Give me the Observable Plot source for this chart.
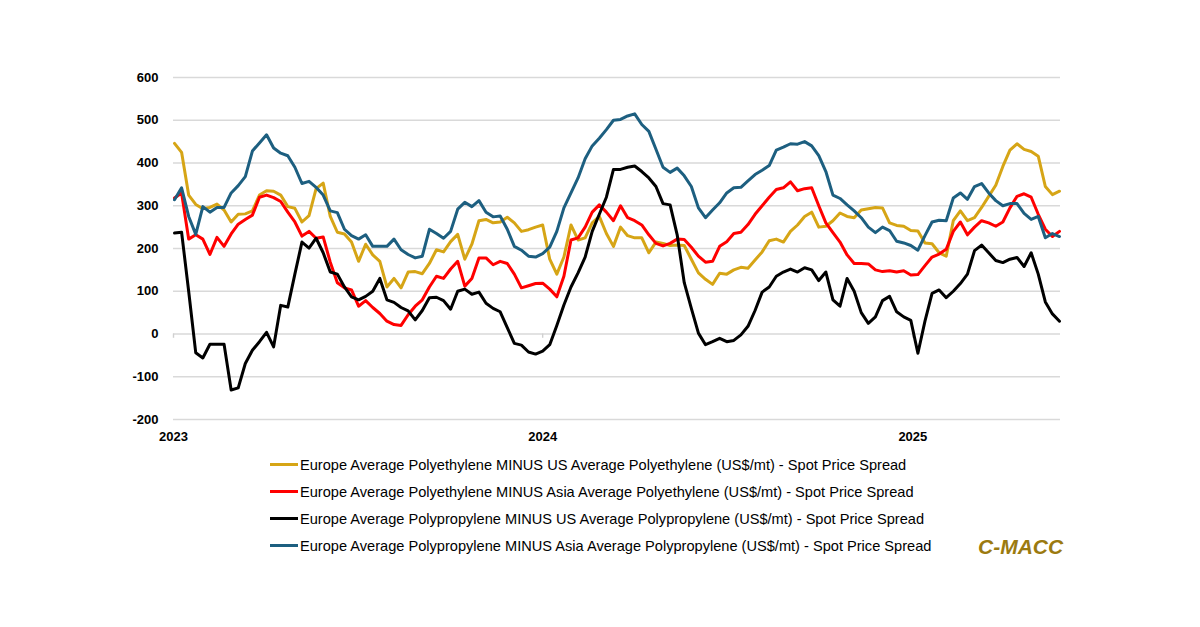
<!DOCTYPE html>
<html><head><meta charset="utf-8">
<script src="https://cdn.jsdelivr.net/npm/d3@7"></script>
<script src="https://cdn.jsdelivr.net/npm/@observablehq/plot@0.6"></script>
<style>
html,body{margin:0;padding:0;background:#fff}
body{width:1200px;height:627px;overflow:hidden;position:relative;font-family:"Liberation Sans",Arial,sans-serif}
#chart{position:absolute;left:0;top:0}
#legend{position:absolute;left:270px;top:451px}
.row{display:flex;align-items:center;height:27px;font-size:14.6px;color:#000;white-space:nowrap}
.sw{width:28px;height:3px;margin-right:2px}
#brand{position:absolute;left:978px;top:535px;font:italic bold 21px "Liberation Sans",Arial,sans-serif;color:#9b7a10}
</style></head><body>
<div id="chart"></div><div id="legend"></div><div id="brand">C-MACC</div>
<script>
const seriesNames = [
  "Europe Average Polyethylene MINUS US Average Polyethylene (US$/mt) - Spot Price Spread",
  "Europe Average Polyethylene MINUS Asia Average Polyethylene (US$/mt) - Spot Price Spread",
  "Europe Average Polypropylene MINUS US Average Polypropylene (US$/mt) - Spot Price Spread",
  "Europe Average Polypropylene MINUS Asia Average Polypropylene (US$/mt) - Spot Price Spread"
];
const seriesColors = ["#d6a516", "#ff0000", "#000000", "#1d5f80"];
const startWeek = "2023-01-02"; // weekly observations
const yTicks = [-200,-100,0,100,200,300,400,500,600];
const yearLabels = ["2023","2024","2025"];

const pe_us = [446,425,325,303,293,296,304,290,262,280,281,288,325,335,334,325,298,294,262,277,340,353,275,
 238,234,215,170,210,185,170,110,130,108,145,146,141,165,197,192,216,233,175,210,265,
 268,260,262,273,260,240,244,250,255,175,140,180,255,220,225,260,275,235,205,250,230,
 225,225,190,215,212,207,208,207,175,143,128,116,142,140,150,156,154,173,192,218,222,
 215,240,255,275,285,250,252,265,283,275,272,290,293,296,295,260,254,252,242,241,213,
 211,190,182,265,288,265,272,296,322,348,392,430,445,432,427,416,345,326,334];
const pe_asia = [318,330,222,232,222,186,226,205,234,257,268,278,320,325,319,310,285,262,229,240,224,227,168,
 120,108,103,65,78,62,48,30,22,20,45,65,80,110,135,130,152,170,112,130,178,
 178,162,170,165,140,108,113,118,119,105,87,135,220,225,250,285,302,285,265,300,272,
 265,255,232,212,206,212,222,221,203,182,168,170,205,216,235,238,256,280,300,320,338,
 342,356,335,340,342,300,260,237,215,185,165,165,164,150,146,148,145,148,138,139,160,
 180,187,198,240,262,232,250,265,260,252,262,295,322,328,320,280,245,228,240];
const pp_us = [236,238,100,-44,-56,-24,-24,-24,-131,-126,-69,-38,-18,4,-30,67,63,140,215,201,224,190,145,
 140,110,87,80,88,100,130,80,74,62,54,33,55,85,86,78,58,100,105,93,98,
 72,60,52,15,-22,-26,-42,-47,-40,-25,20,68,110,143,180,240,280,320,385,385,390,
 393,380,365,345,305,302,232,120,60,2,-25,-18,-10,-18,-15,-2,18,55,98,110,135,
 145,152,145,155,150,125,145,80,65,130,100,50,25,40,78,88,52,40,32,-45,30,
 95,103,85,100,118,140,195,208,190,172,167,175,179,158,190,140,75,47,30];
const pp_asia = [314,342,275,233,298,285,296,296,330,347,368,428,447,466,435,423,417,390,352,357,343,325,288,
 284,245,230,222,232,205,205,205,222,197,186,178,182,245,235,224,240,292,308,298,312,
 285,274,276,245,205,196,182,180,188,203,240,295,330,365,410,440,458,478,500,502,510,
 515,490,474,432,390,378,388,370,345,295,272,290,307,330,342,343,358,373,383,394,430,
 437,445,444,450,440,417,380,325,317,302,288,272,250,237,250,242,217,213,207,196,230,
 262,266,265,318,330,315,345,352,330,312,300,305,305,282,268,275,225,235,228];

const allSeries = [pe_us, pe_asia, pp_us, pp_asia];
const t0 = new Date(startWeek + "T00:00:00Z");
const data = [];
allSeries.forEach((arr, s) => arr.forEach((v, i) => data.push({series: seriesNames[s], date: d3.utcDay.offset(t0, 7*i), value: v})));
const yearTicks = yearLabels.map(y => new Date(y + "-01-01T00:00:00Z"));
const lastDate = d3.utcDay.offset(t0, 7*(pe_us.length-1));

const chart = Plot.plot({
  width: 1200, height: 450,
  marginTop: 77, marginBottom: 31, marginLeft: 173, marginRight: 140,
  style: {fontFamily: "'Liberation Sans', Arial, sans-serif", fontSize: "13px", fontWeight: "bold", color: "#000", background: "transparent"},
  x: {type: "utc", domain: [yearTicks[0], d3.utcDay.offset(lastDate, 1)], ticks: yearTicks, tickFormat: d3.utcFormat("%Y"), tickSize: 0, tickPadding: 12, label: null},
  y: {domain: [-200, 600], ticks: yTicks, tickFormat: d => String(d), tickSize: 0, tickPadding: 15, label: null},
  color: {domain: seriesNames, range: seriesColors},
  marks: [
    Plot.ruleY(yTicks, {stroke: "#d9d9d9", strokeWidth: 1.4}),
    Plot.ruleX(yearTicks, {y1: 0, y2: -10, stroke: "#d0d0d0", strokeWidth: 1.4}),
    Plot.line(data, {x: "date", y: "value", z: "series", stroke: "series", strokeWidth: 3, strokeLinejoin: "round", strokeLinecap: "round"})
  ]
});
document.getElementById("chart").appendChild(chart);

const legend = document.getElementById("legend");
seriesNames.forEach((name, i) => {
  const row = document.createElement("div");
  row.className = "row";
  const sw = document.createElement("span");
  sw.className = "sw";
  sw.style.background = seriesColors[i];
  const tx = document.createElement("span");
  tx.textContent = name;
  row.appendChild(sw); row.appendChild(tx);
  legend.appendChild(row);
});
</script>
</body></html>
